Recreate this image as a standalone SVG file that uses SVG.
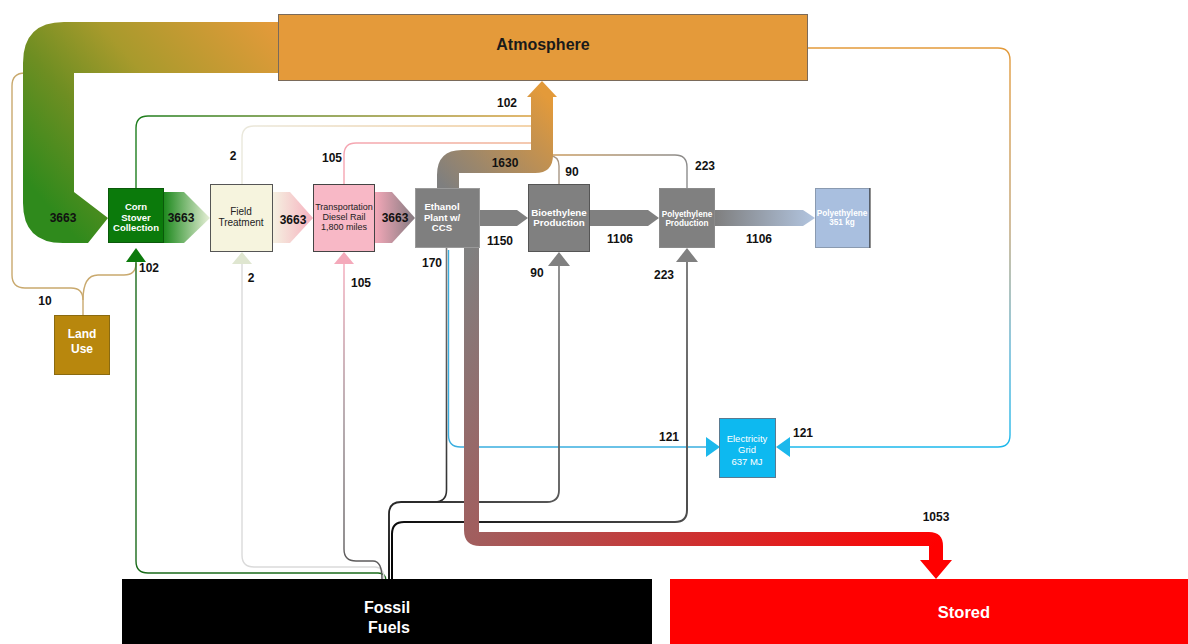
<svg xmlns="http://www.w3.org/2000/svg" width="1188" height="644" viewBox="0 0 1188 644">
<style>
.lbl{font-family:"Liberation Sans",Arial,sans-serif;font-weight:bold;font-size:12px;fill:#111;text-anchor:middle}
.nt{font-family:"Liberation Sans",Arial,sans-serif;text-anchor:middle}
.thin{fill:none;stroke-width:1.4}
</style>
<defs>
<linearGradient id="gAtmCorn" gradientUnits="userSpaceOnUse" x1="278" y1="30" x2="60" y2="220"><stop offset="0" stop-color="#E39A3A"/><stop offset="0.45" stop-color="#A89A2C"/><stop offset="0.7" stop-color="#6E8E22"/><stop offset="1" stop-color="#2F8A1C"/></linearGradient>
<linearGradient id="gCornField" x1="0" y1="0" x2="1" y2="0"><stop offset="0" stop-color="#1F8A1F"/><stop offset="1" stop-color="#E8F0D8"/></linearGradient>
<linearGradient id="gFieldTrans" x1="0" y1="0" x2="1" y2="0"><stop offset="0" stop-color="#F5F2E2"/><stop offset="1" stop-color="#F6B0BE"/></linearGradient>
<linearGradient id="gTransEth" x1="0" y1="0" x2="1" y2="0"><stop offset="0" stop-color="#F3A8B8"/><stop offset="1" stop-color="#847A80"/></linearGradient>
<linearGradient id="gPolyOut" x1="0" y1="0" x2="1" y2="0"><stop offset="0" stop-color="#7F7F7F"/><stop offset="1" stop-color="#B2C5E0"/></linearGradient>
<linearGradient id="g1630" gradientUnits="userSpaceOnUse" x1="447" y1="190" x2="545" y2="95"><stop offset="0" stop-color="#7F7F7F"/><stop offset="1" stop-color="#E39A3A"/></linearGradient>
<linearGradient id="gRed" gradientUnits="userSpaceOnUse" x1="470" y1="250" x2="935" y2="545"><stop offset="0" stop-color="#808080"/><stop offset="0.3" stop-color="#A35C5C"/><stop offset="1" stop-color="#FF0000"/></linearGradient>
<linearGradient id="gGreenLine" gradientUnits="userSpaceOnUse" x1="136" y1="0" x2="531" y2="0"><stop offset="0" stop-color="#1E7E1E"/><stop offset="1" stop-color="#D9A040"/></linearGradient>
<linearGradient id="gCreamLine" gradientUnits="userSpaceOnUse" x1="242" y1="0" x2="531" y2="0"><stop offset="0" stop-color="#EAE8DC"/><stop offset="1" stop-color="#F0C690"/></linearGradient>
<linearGradient id="gPinkLine" gradientUnits="userSpaceOnUse" x1="344" y1="0" x2="531" y2="0"><stop offset="0" stop-color="#F5A5B2"/><stop offset="1" stop-color="#F0B896"/></linearGradient>
<linearGradient id="gTan" gradientUnits="userSpaceOnUse" x1="553" y1="0" x2="687" y2="0"><stop offset="0" stop-color="#C99B5F"/><stop offset="1" stop-color="#8C8C8C"/></linearGradient>
<linearGradient id="gRight" gradientUnits="userSpaceOnUse" x1="0" y1="48" x2="0" y2="447"><stop offset="0" stop-color="#E39A3A"/><stop offset="0.45" stop-color="#BFA274"/><stop offset="0.75" stop-color="#5FB2D2"/><stop offset="1" stop-color="#1CB8EC"/></linearGradient>
<linearGradient id="gPinkDown" gradientUnits="userSpaceOnUse" x1="0" y1="264" x2="0" y2="579"><stop offset="0" stop-color="#F4A9BA"/><stop offset="0.5" stop-color="#9A8A90"/><stop offset="1" stop-color="#555"/></linearGradient>
<linearGradient id="g170" gradientUnits="userSpaceOnUse" x1="447" y1="250" x2="389" y2="579"><stop offset="0" stop-color="#7A7A7A"/><stop offset="0.7" stop-color="#333"/><stop offset="1" stop-color="#000"/></linearGradient>
<linearGradient id="g90" gradientUnits="userSpaceOnUse" x1="559" y1="266" x2="389" y2="579"><stop offset="0" stop-color="#858585"/><stop offset="0.6" stop-color="#555"/><stop offset="1" stop-color="#000"/></linearGradient>
<linearGradient id="g223" gradientUnits="userSpaceOnUse" x1="687" y1="262" x2="392" y2="579"><stop offset="0" stop-color="#7F7F7F"/><stop offset="0.5" stop-color="#444"/><stop offset="1" stop-color="#000"/></linearGradient>
</defs>
<rect width="1188" height="644" fill="#fff"/>

<g id="connectors">
<path class="thin" stroke="#C9A96E" d="M83 315 V300 Q83 288 71 288 H25 Q12 288 12 275 V86 Q12 73 25 73"/>
<path class="thin" stroke="#C9A96E" d="M83 300 Q83 275 98 275 H124 Q136 275 136 263"/>
<path class="thin" stroke="url(#gGreenLine)" d="M136 188 V128 Q136 116 148 116 H532"/>
<path class="thin" stroke="url(#gCreamLine)" d="M242 184 V138 Q242 126 254 126 H532"/>
<path class="thin" stroke="url(#gPinkLine)" d="M344 184 V155 Q344 143 356 143 H532"/>
<path class="thin" stroke="#A89684" d="M559 184 V166 Q559 156 550 156"/>
<path class="thin" stroke="url(#gTan)" d="M552 155 H675 Q687 155 687 167 V188"/>
<path class="thin" stroke="url(#gRight)" d="M808 48 H998 Q1010 48 1010 60 V435 Q1010 447 998 447 H788"/>
<path class="thin" stroke="#3AAEE0" d="M448.5 250 V435 Q448.5 447 460.5 447 H707"/>
<path class="thin" stroke="#1A6B1A" d="M136 262 V561 Q136 573 148 573 H378 Q386 573 386 581"/>
<path class="thin" stroke="#DADADA" d="M242 264 V555 Q242 567 254 567 H375 Q384 567 384 579"/>
<path class="thin" stroke="url(#gPinkDown)" d="M344 264 V549 Q344 561 356 561 H373 Q382 561 382 579"/>
<path fill="none" stroke="url(#g90)" stroke-width="1.8" d="M559 266 V490 Q559 502 547 502 H401 Q389 502 389 514 V580"/>
<path fill="none" stroke="url(#g170)" stroke-width="1.6" d="M446.5 248 V490 Q446.5 502 434.5 502 H401"/>
<path fill="none" stroke="url(#g223)" stroke-width="2" d="M687 262 V510 Q687 522 675 522 H404 Q392 522 392 534 V580"/>

<polygon points="126,262 146,262 136,248" fill="#0C7A0C"/>
<polygon points="232,264 252,264 242,252" fill="#DFE6D0"/>
<polygon points="334,264 354,264 344,252" fill="#F4A9BA"/>
<polygon points="548,266 570,266 559,252" fill="#808080"/>
<polygon points="676,262 698,262 687,248" fill="#808080"/>
<polygon points="706,437 720,447 706,457" fill="#1CB8EC"/>
<polygon points="790,437 776,447 790,457" fill="#1CB8EC"/>

<path fill="url(#gAtmCorn)" d="M278 22 H64 Q23 22 23 63 V203 Q23 243 63 243 H88 L108 218 L74 192 V73 H278 Z"/>
<polygon fill="url(#gCornField)" points="164,192 184,192 210,218 184,243 164,243"/>
<polygon fill="url(#gFieldTrans)" points="272,192 290,192 313,218 290,243 272,243"/>
<polygon fill="url(#gTransEth)" points="375,192 392,192 415,218 392,243 375,243"/>
<polygon fill="#808080" points="480,210 517,210 528,218 517,226 480,226"/>
<polygon fill="#808080" points="590,210 648,210 659,218 648,226 590,226"/>
<polygon fill="url(#gPolyOut)" points="715,210 803,210 815,218 803,226 715,226"/>
<path fill="url(#g1630)" d="M437 188 V175 Q437 150 462 150 H531 V97 H527 L542 81 L557 97 H553 V155 Q553 173 535 173 H459 V188 Z"/>
<path fill="url(#gRed)" d="M464 248 H479 V532 H929 Q943 532 943 546 V560 H952 L936 579 L920 560 H929 V546 H480 Q464 546 464 530 Z"/>
</g>

<g id="labels">
<text class="lbl" x="63" y="222">3663</text>
<text class="lbl" x="181" y="222">3663</text>
<text class="lbl" x="293" y="224">3663</text>
<text class="lbl" x="395" y="222">3663</text>
<text class="lbl" x="507" y="107">102</text>
<text class="lbl" x="233" y="160">2</text>
<text class="lbl" x="332" y="162">105</text>
<text class="lbl" x="505" y="167">1630</text>
<text class="lbl" x="572" y="176">90</text>
<text class="lbl" x="705" y="170">223</text>
<text class="lbl" x="500" y="245">1150</text>
<text class="lbl" x="620" y="243">1106</text>
<text class="lbl" x="759" y="243">1106</text>
<text class="lbl" x="149" y="272">102</text>
<text class="lbl" x="251" y="282">2</text>
<text class="lbl" x="361" y="287">105</text>
<text class="lbl" x="432" y="267">170</text>
<text class="lbl" x="537" y="277">90</text>
<text class="lbl" x="664" y="279">223</text>
<text class="lbl" x="45" y="305">10</text>
<text class="lbl" x="669" y="441">121</text>
<text class="lbl" x="803" y="437">121</text>
<text class="lbl" x="936" y="521">1053</text>
</g>

<g id="atmosphere">
<rect x="278.5" y="14.5" width="529" height="66" fill="#E49A3A" stroke="#7A6A5A"/>
<text class="nt" x="543" y="50" font-size="16" font-weight="bold" fill="#1a1a1a">Atmosphere</text>
</g>
<g id="corn-stover">
<rect x="108.5" y="188.5" width="55" height="54" fill="#0B7A0B" stroke="#0A5A0A"/>
<text class="nt" fill="#fff" font-size="9.5" font-weight="bold"><tspan x="136" y="210">Corn</tspan><tspan x="136" y="220.5">Stover</tspan><tspan x="136" y="231">Collection</tspan></text>
</g>
<g id="field-treatment">
<rect x="210.5" y="184.5" width="62" height="67" fill="#F6F4DE" stroke="#555"/>
<text class="nt" fill="#222" font-size="10"><tspan x="241" y="215">Field</tspan><tspan x="241" y="226">Treatment</tspan></text>
</g>
<g id="transportation">
<rect x="313.5" y="184.5" width="61" height="67" fill="#F8B8C6" stroke="#444"/>
<text class="nt" fill="#222" font-size="9"><tspan x="344" y="210">Transportation</tspan><tspan x="344" y="220">Diesel Rail</tspan><tspan x="344" y="229.5">1,800 miles</tspan></text>
</g>
<g id="ethanol-plant">
<rect x="415.5" y="188.5" width="64" height="59" fill="#7F7F7F" stroke="#9A9A9A"/>
<text class="nt" fill="#fff" font-size="9.6" font-weight="bold"><tspan x="442" y="209.5">Ethanol</tspan><tspan x="442" y="220.5">Plant w/</tspan><tspan x="442" y="231">CCS</tspan></text>
</g>
<g id="bioethylene">
<rect x="528.5" y="184.5" width="61" height="67" fill="#808080" stroke="#555"/>
<text class="nt" fill="#fff" font-size="9.8" font-weight="bold"><tspan x="559" y="215.5">Bioethylene</tspan><tspan x="559" y="226">Production</tspan></text>
</g>
<g id="polyethylene-production">
<rect x="659.5" y="188.5" width="55" height="59" fill="#808080" stroke="#8A8A8A"/>
<text class="nt" fill="#fff" font-size="8.2" font-weight="bold"><tspan x="687" y="217">Polyethylene</tspan><tspan x="687" y="226">Production</tspan></text>
</g>
<g id="polyethylene">
<rect x="815.5" y="188.5" width="54" height="59" fill="#A9BFDF" stroke="#8A9AB0"/>
<line x1="870" y1="188" x2="870" y2="248" stroke="#222"/>
<text class="nt" fill="#fff" font-size="8.2" font-weight="bold"><tspan x="842" y="216">Polyethylene</tspan><tspan x="842" y="225">351 kg</tspan></text>
</g>
<g id="electricity-grid">
<rect x="719.5" y="418.5" width="56" height="59" fill="#0DB9F0" stroke="#5A7A90"/>
<text class="nt" fill="#fff" font-size="9.5"><tspan x="747" y="442">Electricity</tspan><tspan x="747" y="453">Grid</tspan><tspan x="747" y="464.5">637 MJ</tspan></text>
</g>
<g id="land-use">
<rect x="54.5" y="315.5" width="55" height="59" fill="#B8870D" stroke="#8A6A10"/>
<text class="nt" fill="#fff" font-size="12" font-weight="bold"><tspan x="82" y="338">Land</tspan><tspan x="82" y="353">Use</tspan></text>
</g>
<g id="fossil-fuels">
<rect x="122" y="579" width="530" height="65" fill="#000"/>
<text class="nt" fill="#fff" font-size="16" font-weight="bold"><tspan x="387" y="613">Fossil</tspan><tspan x="389" y="633">Fuels</tspan></text>
</g>
<g id="stored">
<rect x="670" y="579" width="518" height="65" fill="#FF0000"/>
<text class="nt" x="964" y="618" fill="#fff" font-size="16.5" font-weight="bold">Stored</text>
</g>
</svg>
